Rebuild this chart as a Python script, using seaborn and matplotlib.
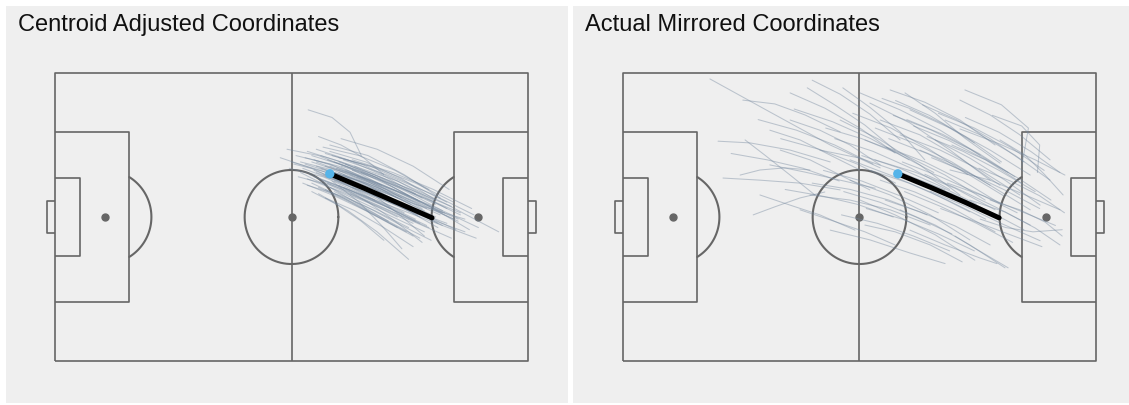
import numpy as np
import pandas as pd
import matplotlib.pyplot as plt
import seaborn as sns

titles = ["Centroid Adjusted Coordinates", "Actual Mirrored Coordinates"]

centroid_tracks = [
    [(55.0, 45.5), (62.5, 42.5), (70.0, 39.0), (77.5, 35.0)],
    [(57.0, 47.0), (64.0, 44.5), (71.5, 41.0), (79.0, 37.0)],
    [(58.5, 43.0), (66.0, 40.0), (73.5, 36.5), (81.0, 32.5)],
    [(60.0, 46.0), (67.5, 43.5), (75.0, 40.0), (82.5, 36.0)],
    [(61.5, 44.5), (69.0, 41.0), (76.5, 37.5), (84.0, 33.5)],
    [(56.0, 41.5), (63.5, 39.0), (71.0, 35.5), (78.5, 31.5)],
    [(59.0, 48.5), (66.5, 46.0), (74.0, 42.5), (81.5, 38.5)],
    [(62.0, 47.0), (70.0, 44.0), (78.0, 40.0), (86.0, 35.5)],
    [(63.5, 43.0), (71.0, 39.5), (78.5, 36.0), (86.0, 32.0)],
    [(54.0, 43.5), (61.0, 41.5), (68.5, 38.0), (76.0, 34.0)],
    [(57.5, 45.0), (65.5, 42.0), (73.5, 38.5), (81.0, 34.0)],
    [(60.5, 42.0), (68.0, 38.5), (75.5, 35.0), (83.0, 31.5)],
    [(58.0, 50.0), (65.0, 47.5), (72.5, 44.0), (80.0, 39.5)],
    [(64.5, 46.5), (72.0, 43.5), (80.0, 40.0), (88.0, 36.5)],
    [(61.0, 49.5), (69.0, 47.0), (77.0, 43.0), (84.5, 38.0)],
    [(55.5, 48.0), (63.0, 46.0), (70.0, 42.5), (77.0, 38.5)],
    [(53.0, 46.5), (60.5, 44.5), (68.0, 41.0), (75.5, 37.0)],
    [(59.5, 44.0), (67.0, 41.5), (74.5, 38.0), (82.0, 34.5)],
    [(62.5, 45.5), (70.5, 42.5), (78.5, 39.0), (86.5, 35.0)],
    [(57.0, 42.0), (64.0, 38.5), (71.0, 34.5), (78.0, 30.5)],
    [(60.0, 40.5), (67.0, 37.0), (74.0, 33.0), (81.0, 29.0)],
    [(63.0, 41.5), (69.5, 37.5), (75.5, 33.0), (81.5, 28.0)],
    [(58.5, 39.5), (65.0, 35.5), (71.5, 30.5), (78.5, 24.0)],
    [(61.5, 42.5), (67.5, 37.5), (72.5, 32.0), (77.0, 26.5)],
    [(64.0, 44.0), (70.5, 39.5), (76.5, 34.5), (82.0, 29.5)],
    [(66.0, 45.0), (74.0, 42.0), (82.0, 38.5), (90.0, 35.0)],
    [(65.0, 42.0), (73.0, 38.5), (81.0, 35.0), (89.0, 31.0)],
    [(63.0, 48.0), (71.5, 45.5), (80.0, 42.0), (88.5, 37.5)],
    [(67.0, 43.5), (76.0, 40.0), (85.0, 36.0), (94.0, 31.5)],
    [(66.5, 46.0), (76.0, 42.5), (86.0, 37.5), (98.5, 30.5)],
    [(64.0, 47.5), (73.5, 44.0), (83.5, 39.5), (93.0, 34.5)],
    [(56.2, 59.3), (61.5, 57.5), (65.5, 54.0), (68.0, 48.5)],
    [(58.5, 53.0), (63.5, 51.0), (68.5, 48.0), (73.0, 44.0)],
    [(50.0, 48.0), (57.0, 45.5), (64.0, 42.0), (71.0, 38.0)],
    [(51.5, 50.0), (58.5, 48.5), (65.5, 45.5), (72.5, 41.5)],
    [(61.0, 51.0), (69.5, 48.5), (77.5, 44.0), (85.5, 38.5)],
    [(63.5, 52.5), (71.5, 50.0), (79.5, 46.0), (87.5, 40.5)],
    [(57.0, 40.0), (62.5, 37.0), (68.0, 33.0), (73.0, 28.5)],
    [(60.0, 38.5), (66.5, 35.5), (73.0, 31.5), (79.5, 27.0)],
    [(54.5, 44.5), (61.0, 41.0), (67.5, 37.0), (74.0, 33.0)],
    [(65.5, 39.5), (73.0, 36.0), (80.5, 32.5), (88.0, 29.0)],
    [(62.0, 44.0), (71.0, 40.5), (80.0, 37.0), (91.0, 33.5)],
    [(68.0, 44.5), (76.0, 40.5), (84.0, 36.0), (92.0, 31.0)],
    [(52.5, 47.0), (59.0, 45.0), (65.0, 42.5), (71.0, 39.0)],
    [(56.5, 44.0), (64.0, 41.0), (72.0, 37.5), (80.0, 33.5)],
    [(64.0, 41.0), (73.5, 37.0), (83.5, 33.0), (93.5, 29.0)],
    [(55.5, 46.5), (63.0, 44.0), (71.0, 40.5), (79.0, 36.0)],
    [(58.0, 46.0), (66.0, 43.0), (74.0, 39.5), (82.0, 35.5)],
    [(60.5, 47.5), (68.5, 44.5), (76.5, 41.0), (84.5, 37.0)],
    [(59.0, 42.5), (66.5, 39.5), (74.5, 36.0), (82.5, 32.0)],
    [(62.0, 42.5), (70.0, 39.5), (78.0, 36.0), (87.0, 32.5)],
    [(57.5, 43.5), (65.0, 40.5), (72.5, 37.0), (80.0, 33.0)],
    [(61.0, 46.0), (69.0, 43.0), (77.5, 39.5), (86.0, 35.0)],
    [(56.0, 49.5), (63.5, 47.0), (71.0, 43.5), (78.5, 39.0)],
    [(63.0, 44.5), (71.5, 41.0), (80.0, 37.5), (88.5, 33.5)],
    [(54.5, 47.0), (62.0, 45.0), (69.5, 41.5), (77.0, 37.0)],
    [(60.0, 43.5), (68.5, 40.5), (77.0, 37.0), (85.0, 32.5)],
    [(65.5, 44.0), (73.5, 40.5), (81.5, 37.0), (89.5, 33.0)],
    [(58.0, 44.5), (65.5, 41.5), (73.0, 38.0), (80.5, 34.5)],
    [(52.0, 45.5), (59.5, 43.5), (67.0, 40.0), (74.5, 36.0)],
    [(61.5, 48.5), (70.0, 46.0), (78.5, 42.0), (87.0, 37.5)],
    [(59.0, 45.5), (67.5, 42.5), (76.0, 38.5), (84.5, 34.0)],
    [(63.5, 46.0), (72.5, 43.0), (81.0, 39.0), (90.0, 34.5)],
    [(57.0, 48.5), (64.5, 46.0), (72.5, 42.5), (80.5, 38.0)],
    [(62.5, 43.5), (70.0, 40.0), (77.5, 36.0), (85.0, 31.5)],
    [(56.0, 43.0), (63.5, 40.0), (71.5, 36.5), (79.5, 32.5)],
    [(64.5, 45.0), (72.5, 41.5), (81.0, 37.5), (89.5, 33.5)],
    [(60.0, 49.0), (68.0, 46.5), (76.0, 42.5), (84.0, 38.0)],
    [(58.5, 41.0), (65.5, 37.5), (72.5, 33.5), (79.5, 29.5)],
    [(62.0, 40.0), (69.0, 36.5), (76.0, 32.5), (83.5, 28.5)],
    [(66.0, 41.0), (74.0, 37.5), (82.0, 34.0), (91.0, 30.5)],
    [(53.5, 48.5), (61.0, 46.5), (68.5, 43.0), (76.0, 38.5)],
    [(60.5, 45.0), (69.0, 42.0), (77.0, 38.5), (85.5, 34.5)],
    [(57.5, 47.5), (65.0, 45.0), (73.0, 41.5), (81.0, 37.5)],
    [(63.0, 47.0), (71.0, 44.0), (79.0, 40.5), (87.0, 36.0)],
    [(55.0, 42.0), (62.0, 39.0), (69.0, 35.5), (76.0, 31.5)],
    [(59.5, 50.5), (67.5, 48.5), (75.5, 45.0), (83.0, 40.5)],
    [(66.0, 47.5), (75.0, 44.5), (84.0, 40.5), (92.5, 36.0)],
    [(61.0, 41.0), (68.0, 37.5), (75.0, 34.0), (82.0, 30.5)],
    [(58.0, 47.0), (65.5, 44.0), (73.5, 40.5), (81.5, 36.0)],
]

mirrored_tracks = [
    [(19.3, 66.6), (32.6, 58.8), (46.0, 51.0), (57.1, 45.6)],
    [(21.1, 51.9), (28.2, 51.5), (37.1, 49.8), (46.0, 47.0)],
    [(26.6, 61.6), (33.7, 60.7), (40.4, 58.1), (48.2, 54.1)],
    [(27.1, 52.2), (31.5, 48.6), (37.1, 43.9), (42.6, 39.2)],
    [(22.2, 43.2), (30.4, 42.7), (39.3, 42.0), (48.2, 40.4)],
    [(28.9, 34.5), (33.7, 36.4), (39.3, 38.5), (44.8, 39.9)],
    [(26.0, 43.9), (30.4, 45.1), (36.0, 45.6), (41.5, 45.1)],
    [(40.9, 64.5), (47.1, 60.4), (53.7, 55.7), (60.4, 49.8)],
    [(48.8, 64.5), (54.8, 59.9), (61.5, 54.1), (67.0, 47.5)],
    [(32.6, 54.5), (39.3, 52.2), (46.0, 48.6), (52.6, 45.1)],
    [(34.9, 49.8), (41.5, 47.5), (48.2, 43.9), (54.8, 40.4)],
    [(37.1, 56.9), (43.7, 54.5), (50.4, 51.0), (57.1, 46.3)],
    [(30.4, 39.2), (37.1, 36.8), (43.7, 34.5), (51.5, 30.9)],
    [(39.3, 35.7), (46.0, 33.3), (53.7, 30.5), (60.4, 27.4)],
    [(32.6, 46.3), (40.4, 44.6), (48.2, 42.7), (56.0, 40.8)],
    [(52.6, 63.3), (61.5, 59.3), (70.4, 54.5), (79.3, 48.6)],
    [(54.8, 60.9), (63.7, 56.2), (72.6, 49.8), (81.5, 42.7)],
    [(57.1, 56.9), (65.9, 53.4), (74.8, 47.9), (83.7, 41.5)],
    [(53.7, 52.2), (62.6, 48.6), (71.5, 43.9), (80.4, 38.0)],
    [(50.4, 47.5), (59.3, 43.9), (68.2, 39.9), (77.0, 35.2)],
    [(59.3, 64.0), (67.0, 61.1), (74.8, 56.9), (82.6, 51.0)],
    [(61.5, 53.4), (70.4, 49.8), (79.3, 45.1), (88.1, 39.2)],
    [(63.7, 59.3), (72.6, 55.0), (81.5, 49.8), (90.4, 43.9)],
    [(65.9, 49.8), (73.7, 46.3), (81.5, 41.5), (90.4, 35.7)],
    [(57.1, 42.7), (64.8, 39.9), (73.7, 35.7), (82.6, 30.5)],
    [(52.6, 38.0), (60.4, 34.5), (69.3, 29.8), (78.1, 23.8)],
    [(61.5, 35.7), (69.3, 32.1), (77.0, 27.4), (84.8, 22.0)],
    [(68.2, 40.1), (75.9, 36.6), (83.7, 32.6), (92.6, 28.4)],
    [(71.5, 56.9), (79.3, 53.4), (87.0, 48.6), (94.8, 42.7)],
    [(74.8, 61.6), (81.5, 58.1), (88.1, 53.4), (94.8, 47.5)],
    [(75.9, 64.0), (84.0, 60.5), (90.0, 55.0), (88.5, 46.0)],
    [(72.6, 45.1), (81.5, 42.7), (89.3, 39.2), (97.0, 35.7)],
    [(77.0, 38.0), (84.8, 35.2), (91.5, 31.4), (97.0, 27.4)],
    [(48.2, 56.9), (57.1, 52.2), (65.9, 46.3), (74.8, 39.2)],
    [(50.4, 42.7), (59.3, 39.2), (68.2, 34.5), (77.0, 28.6)],
    [(46.0, 30.9), (54.8, 28.6), (63.7, 25.5), (71.5, 23.0)],
    [(69.3, 52.2), (77.0, 47.9), (84.8, 42.7), (92.6, 36.8)],
    [(55.9, 47.5), (64.8, 44.6), (73.7, 40.8), (82.6, 35.7)],
    [(62.6, 63.3), (69.3, 58.5), (75.9, 52.6), (83.7, 46.7)],
    [(83.7, 52.2), (89.3, 48.6), (93.7, 43.9), (97.7, 39.2)],
    [(79.3, 33.5), (85.0, 31.5), (91.0, 30.5), (97.5, 31.0)],
    [(73.7, 29.5), (77.5, 27.0), (81.5, 24.5), (85.5, 22.0)],
    [(63.7, 30.9), (71.5, 27.4), (79.3, 24.3), (83.0, 23.0)],
    [(43.7, 49.8), (52.6, 47.9), (61.5, 44.6), (71.5, 40.4)],
    [(41.5, 39.2), (50.4, 38.0), (59.3, 35.7), (68.2, 32.1)],
    [(37.1, 63.3), (44.8, 59.7), (52.6, 55.0), (60.4, 49.1)],
    [(42.0, 66.3), (48.2, 63.0), (54.8, 58.3), (61.5, 52.2)],
    [(74.8, 54.8), (83.7, 51.2), (91.5, 47.5), (98.1, 43.9)],
    [(81.5, 38.0), (88.1, 35.7), (93.7, 32.8), (97.5, 29.5)],
    [(67.0, 44.1), (74.8, 40.4), (82.6, 36.4), (90.4, 32.1)],
    [(58.2, 38.0), (66.0, 35.2), (73.7, 31.9), (81.5, 27.4)],
    [(53.7, 32.1), (60.4, 30.5), (68.2, 27.4), (75.3, 23.4)],
    [(56.0, 55.0), (64.5, 51.5), (73.0, 47.0), (81.5, 41.5)],
    [(58.5, 50.5), (67.0, 47.0), (75.5, 42.5), (84.0, 37.0)],
    [(60.0, 58.0), (68.5, 54.5), (77.0, 50.0), (85.5, 44.5)],
    [(62.0, 47.0), (70.5, 43.5), (79.0, 39.5), (87.5, 35.0)],
    [(64.5, 55.5), (72.5, 52.0), (80.5, 47.5), (88.5, 42.0)],
    [(66.5, 60.5), (74.0, 57.0), (81.5, 52.5), (89.0, 47.0)],
    [(55.0, 45.0), (63.5, 42.0), (72.0, 38.0), (80.5, 33.5)],
    [(68.5, 48.0), (76.5, 44.5), (84.5, 40.5), (92.5, 36.0)],
    [(70.0, 58.5), (78.0, 55.0), (86.0, 50.5), (93.5, 45.0)],
    [(47.0, 52.5), (55.5, 49.5), (64.0, 45.5), (72.5, 40.5)],
    [(44.5, 45.0), (53.0, 42.5), (61.5, 39.0), (70.0, 35.0)],
    [(51.0, 58.5), (59.5, 55.0), (68.0, 50.0), (76.5, 44.0)],
    [(73.0, 51.0), (80.5, 47.5), (88.0, 43.0), (95.0, 38.0)],
    [(60.5, 61.5), (68.0, 58.0), (76.0, 53.0), (84.0, 47.0)],
    [(57.5, 62.0), (64.0, 59.5), (71.0, 56.0), (78.0, 51.5)],
    [(65.0, 43.0), (73.0, 39.5), (81.0, 35.5), (89.0, 31.0)],
    [(62.5, 40.0), (70.5, 36.5), (78.5, 32.5), (86.5, 28.0)],
    [(54.0, 36.0), (62.0, 33.5), (70.0, 30.0), (78.0, 26.0)],
    [(49.0, 40.0), (57.0, 37.5), (65.0, 34.0), (73.0, 30.0)],
    [(45.0, 55.0), (53.0, 52.5), (61.0, 49.0), (69.0, 44.5)],
    [(38.0, 59.5), (46.5, 56.5), (55.0, 52.5), (63.5, 47.5)],
    [(35.0, 52.5), (43.5, 50.0), (52.0, 46.5), (60.5, 42.0)],
    [(30.0, 57.0), (38.5, 54.5), (47.0, 51.0), (55.5, 46.5)],
    [(24.0, 49.0), (32.0, 47.5), (40.0, 45.5), (48.0, 42.5)],
    [(70.5, 36.0), (78.0, 33.0), (85.5, 30.0), (93.0, 27.0)],
    [(76.0, 57.5), (83.5, 54.0), (90.5, 49.5), (97.0, 44.5)],
    [(67.5, 53.0), (75.5, 49.5), (83.5, 45.0), (91.5, 40.0)],
    [(53.0, 48.5), (61.5, 45.5), (70.0, 41.5), (78.5, 37.0)],
    [(59.0, 52.5), (67.5, 49.0), (76.0, 44.5), (84.5, 39.0)],
    [(63.0, 57.0), (71.0, 53.5), (79.0, 49.0), (87.0, 43.5)],
    [(42.0, 42.0), (50.5, 40.5), (59.0, 38.0), (67.5, 34.5)],
    [(48.5, 34.5), (56.5, 32.5), (64.5, 29.5), (72.5, 26.0)],
    [(72.0, 42.0), (80.0, 39.0), (88.0, 35.5), (96.0, 32.0)],
    [(79.0, 45.5), (86.0, 42.5), (92.5, 39.0), (98.0, 35.0)],
    [(82.0, 58.0), (88.5, 55.5), (92.5, 51.0), (92.0, 44.5)],
    [(36.0, 40.5), (44.0, 39.0), (52.0, 37.0), (60.0, 34.0)],
]

centroid_mean_x = [61.0, 68.6, 76.2, 83.7]
centroid_mean_y = [44.2, 40.8, 37.3, 33.8]
mirrored_mean_x = [61.0, 68.5, 76.0, 83.5]
mirrored_mean_y = [44.2, 40.9, 37.45, 33.8]

W, H = 1129, 405
PITCH_COL = "#666666"
TRACK_COL = "#71859c"
BG = "#efefef"


def tracks_frame(tracks):
    rows = []
    for i, tr in enumerate(tracks):
        for j, (x, y) in enumerate(tr):
            rows.append({"track": i, "step": j, "x": x, "y": y})
    return pd.DataFrame(rows)


def draw_pitch(ax):
    kw = dict(color=PITCH_COL, lw=1.2, solid_capstyle="butt", zorder=1)
    ax.plot([0, 105, 105, 0, 0], [0, 0, 68, 68, 0], **kw)
    ax.plot([52.5, 52.5], [0, 68], **kw)
    for side in (0, 1):
        sx = (lambda v: v) if side == 0 else (lambda v: 105 - v)
        # penalty box, six-yard box, goal
        ax.plot([sx(0), sx(16.5), sx(16.5), sx(0)], [13.84, 13.84, 54.16, 54.16], **kw)
        ax.plot([sx(0), sx(5.5), sx(5.5), sx(0)], [24.84, 24.84, 43.16, 43.16], **kw)
        ax.plot([sx(0), sx(-1.8), sx(-1.8), sx(0)], [30.34, 30.34, 37.66, 37.66], **kw)
        ax.plot([sx(11)], [34], "o", color=PITCH_COL, ms=5, zorder=1)
        # arc outside the penalty box
        rx, ry = 10.4, 11.1
        t0 = np.arccos(5.5 / rx)
        t = np.linspace(-t0, t0, 60)
        ax.plot(sx(11 + rx * np.cos(t)), 34 + ry * np.sin(t), color=PITCH_COL, lw=1.5, zorder=1)
    t = np.linspace(0, 2 * np.pi, 200)
    ax.plot(52.5 + 10.4 * np.cos(t), 34 + 11.1 * np.sin(t), color=PITCH_COL, lw=1.5, zorder=1)
    ax.plot([52.5], [34], "o", color=PITCH_COL, ms=5, zorder=1)


sns.set_theme(style="white")
plt.rcParams["font.family"] = ["Liberation Sans", "DejaVu Sans"]

fig = plt.figure(figsize=(W / 100, H / 100), dpi=100, facecolor="white")

panels = [(6, 568), (573, 1129)]
pitch_left = [55, 623]
data = [
    (centroid_tracks, centroid_mean_x, centroid_mean_y),
    (mirrored_tracks, mirrored_mean_x, mirrored_mean_y),
]

for k in range(2):
    x0, x1 = panels[k]
    # grey panel background as its own axes, behind the pitch
    bg = fig.add_axes([x0 / W, 2 / H, (x1 - x0) / W, (H - 8) / H], zorder=0)
    bg.set_facecolor(BG)
    bg.set_xticks([])
    bg.set_yticks([])
    for s in bg.spines.values():
        s.set_visible(False)
    fig.text((x0 + 12) / W, 1 - 31 / H, titles[k], fontsize=17, color="#111111",
             va="baseline", ha="left")

    # pitch axes: xlim -3..108, ylim -2..70
    pxm, pym = 473 / 105, 288 / 68
    left = pitch_left[k] - 3 * pxm
    bottom = 44 - 2 * pym
    ax = fig.add_axes([left / W, bottom / H, 111 * pxm / W, 72 * pym / H], zorder=1)
    ax.set_xlim(-3, 108)
    ax.set_ylim(-2, 70)
    ax.patch.set_alpha(0)

    tracks, mx, my = data[k]
    draw_pitch(ax)
    df = tracks_frame(tracks)
    sns.lineplot(data=df, x="x", y="y", units="track", estimator=None, sort=False,
                 color=TRACK_COL, lw=0.75, alpha=0.42, legend=False, ax=ax, zorder=2)
    mean_df = pd.DataFrame({"x": mx, "y": my})
    sns.lineplot(data=mean_df, x="x", y="y", sort=False, color="black", lw=3.6,
                 legend=False, ax=ax, zorder=3)
    sns.scatterplot(x=[mx[0]], y=[my[0]], color="#56B4E9", s=45, edgecolor="none",
                    ax=ax, zorder=4)
    ax.set_axis_off()

fig.savefig("out.png", dpi=100, facecolor="white")
